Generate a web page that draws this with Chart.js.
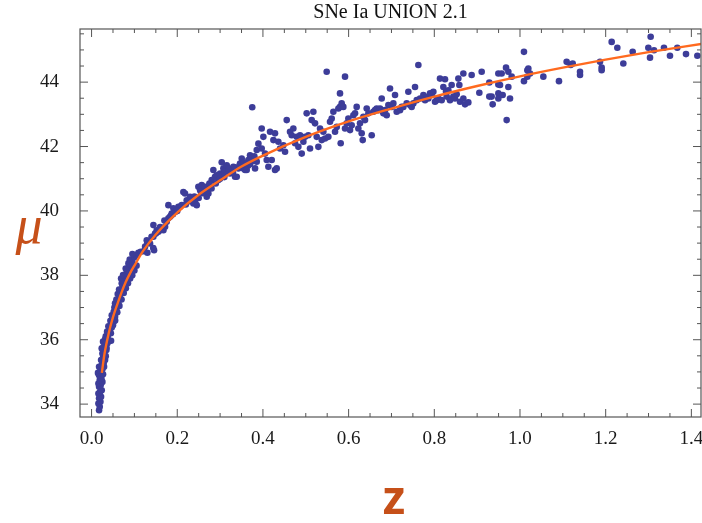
<!DOCTYPE html>
<html>
<head>
<meta charset="utf-8">
<title>SNe Ia UNION 2.1</title>
<script src="https://cdn.jsdelivr.net/npm/chart.js@4.4.1/dist/chart.umd.min.js"></script>
<style>
  html, body { margin: 0; padding: 0; background: #fff; }
  #wrap { position: relative; width: 702px; height: 523px; }
</style>
</head>
<body>
<div id="wrap"><canvas id="hubble"></canvas></div>
<script>
// Supernovas Union 2.1: [z, mu]
const snLowZ = [
  [0.0175,33.81],[0.0191,33.92],[0.0160,34.02],[0.0207,34.07],[0.0175,34.18],[0.0222,34.23],[0.0160,34.33],[0.0198,34.38],
  [0.0237,34.43],[0.0175,34.54],[0.0214,34.59],[0.0160,34.64],[0.0253,34.69],[0.0191,34.75],[0.0229,34.80],[0.0175,34.90],
  [0.0268,34.93],[0.0150,34.97],[0.0206,35.04],[0.0253,35.08],[0.0292,35.16],[0.0175,35.16],[0.0237,35.21],[0.0284,35.28],
  [0.0315,35.37],[0.0222,35.37],[0.0268,35.45],[0.0331,35.49],[0.0253,35.57],[0.0300,35.63],[0.0346,35.68],[0.0237,35.73],
  [0.0284,35.78],[0.0331,35.83],[0.0370,35.89],[0.0268,35.94],[0.0315,36.01],[0.0377,36.04],[0.0455,35.97],[0.0331,36.11],
  [0.0393,36.17],[0.0362,36.25],[0.0424,36.30],[0.0471,36.38],[0.0393,36.42],[0.0455,36.48],[0.0517,36.56],[0.0440,36.59],
  [0.0486,36.66],[0.0548,36.71],[0.0471,36.76],[0.0517,36.87],[0.0580,36.92],[0.0533,37.00],[0.0595,37.08],[0.0548,37.13],
  [0.0626,37.18],[0.0580,37.25],[0.0657,37.33],[0.0611,37.42],[0.0673,37.49],[0.0704,37.75],[0.0642,37.56],[0.0720,37.64],
  [0.0751,37.80],[0.0689,37.90],[0.0782,37.95],[0.0813,38.06],[0.0735,38.01],[0.0844,38.16],[0.0875,38.25],[0.0797,38.21],
  [0.0922,38.32],[0.0860,38.37],[0.0953,38.42],[0.0891,38.49],[0.1000,38.56],[0.1046,38.63],[0.0953,38.66],[0.1093,38.70],
  [0.1147,38.73],[0.1225,38.75],[0.1303,38.70],[0.1459,38.78],
  [0.050,36.45],[0.055,36.60],[0.060,36.85],[0.065,37.05],[0.070,37.25],[0.075,37.45],[0.080,37.60],[0.085,37.75],
  [0.090,37.90],[0.095,38.00],[0.100,38.15],[0.105,38.30],[0.045,36.20],[0.035,35.75],[0.030,35.40],[0.040,35.95]
];

const snMidZ = [
  [0.1249,38.89],[0.1288,39.09],[0.1365,38.99],[0.1443,39.56],[0.1443,39.20],[0.1482,39.30],[0.1521,39.40],[0.1560,39.35],
  [0.1599,39.40],[0.1638,39.45],[0.1677,39.40],[0.1716,39.51],[0.1754,39.66],[0.1793,39.77],[0.1832,39.82],[0.1871,39.92],
  [0.1793,40.18],[0.1910,40.08],[0.1949,39.97],[0.1988,40.02],[0.2027,40.13],[0.2066,40.13],[0.2105,40.18],[0.2143,40.59],
  [0.2182,40.54],[0.2221,40.33],[0.2299,40.44],[0.2338,40.33],[0.2377,40.23],[0.2416,40.28],[0.2455,40.18],[0.2493,40.75],
  [0.2532,40.65],[0.2571,40.80],[0.2610,40.70],[0.2649,40.59],[0.2688,40.44],[0.2727,40.54],[0.2766,40.75],[0.2804,40.96],
  [0.2843,41.27],[0.2882,41.06],[0.2921,41.11],[0.2960,40.96],[0.2999,41.16],[0.3038,41.51],[0.3077,41.32],[0.3116,41.22],
  [0.3155,41.42],[0.3193,41.32],[0.3232,41.16],[0.3271,41.27],[0.3310,41.37],[0.3349,41.06],[0.3388,41.06],[0.3427,41.32],
  [0.3466,41.47],[0.3505,41.63],[0.3544,41.32],[0.3582,41.27],[0.3621,41.27],[0.3660,41.58],[0.3699,41.73],[0.3738,41.63],
  [0.3777,41.58],[0.3816,41.32],[0.3855,41.89],[0.3894,42.09],[0.3855,41.53],[0.3750,43.22],[0.1440,38.85],
  [0.260,40.55],[0.265,40.75],[0.270,40.62],[0.275,40.85],[0.280,40.70],[0.290,40.85],[0.300,41.00],[0.305,41.10],
  [0.310,41.05],[0.320,41.25],[0.330,41.20],[0.335,41.35],[0.345,41.40],[0.355,41.50],[0.360,41.45],[0.365,41.40],
  [0.375,41.55],[0.380,41.70],[0.370,41.45],[0.240,40.45],[0.220,40.20],[0.200,40.00],[0.190,39.90],[0.170,39.70],
  [0.160,39.50],[0.150,39.30],[0.140,39.20],[0.130,39.00],[0.185,39.85],[0.230,40.30],[0.250,40.40],[0.255,40.60]
];

const snHighZ = [
  [0.3971,42.56],[0.4010,42.30],[0.3971,41.94],[0.4049,41.78],[0.4088,41.58],[0.4127,41.37],[0.4205,41.58],[0.4282,41.27],
  [0.4321,41.32],[0.4166,42.46],[0.4282,42.41],[0.4244,42.20],[0.4360,42.15],[0.4399,41.94],[0.4477,42.04],[0.4516,41.84],
  [0.4555,42.82],[0.4632,42.46],[0.4671,42.35],[0.4710,42.56],[0.4749,42.10],[0.4788,42.30],[0.4827,41.99],[0.4866,42.35],
  [0.4905,41.78],[0.4944,42.15],[0.4983,42.30],[0.5021,43.03],[0.5060,42.35],[0.5099,41.94],[0.5138,42.82],[0.5177,43.08],
  [0.5216,42.72],[0.5255,42.30],[0.5294,41.99],[0.5333,42.56],[0.5372,42.20],[0.5410,42.46],[0.5449,42.25],[0.5488,44.32],
  [0.5527,42.30],[0.5566,42.77],[0.5605,42.87],[0.5644,43.08],[0.5683,42.46],[0.5722,42.61],[0.5761,43.18],[0.5799,43.23],
  [0.5815,42.10],[0.5838,43.34],[0.5799,43.65],[0.5877,43.23],[0.5916,44.17],[0.5916,42.56],[0.5955,42.72],[0.5994,42.87],
  [0.6033,42.51],[0.6072,42.66],[0.6111,42.97],[0.6150,43.03],[0.6188,43.23],[0.6227,42.56],[0.6266,42.72],[0.6305,42.41],
  [0.6329,42.20],[0.6344,42.92],[0.6383,42.82],[0.6422,43.18],[0.6461,43.03],[0.6539,42.35],[0.6577,43.08],[0.6616,43.13],
  [0.6655,43.18],[0.6694,43.13],[0.6733,43.18],[0.6772,43.49],[0.6811,43.03],[0.6850,43.13],[0.6889,42.97],[0.6928,43.29],
  [0.6966,43.80],[0.7005,43.23],[0.7044,43.34],[0.7083,43.60],[0.7122,43.08],[0.7200,43.13],[0.7239,43.23],[0.7278,43.23],
  [0.7355,43.34],[0.7394,43.70],[0.7433,43.29],[0.7472,43.23],[0.7511,43.34],[0.7550,43.85],[0.7589,43.44],[0.7628,44.53],
  [0.7667,43.49],[0.7745,43.60],[0.7784,43.44],[0.7822,43.54],[0.7861,43.49],[0.7900,43.65],[0.7939,43.60],[0.7978,43.70],
  [0.8017,43.39],[0.8056,43.44],[0.8095,43.49],
  [0.8133,44.11],[0.8172,43.44],[0.8211,43.85],[0.8250,44.09],[0.8273,43.70],[0.8289,43.55],[0.8328,43.75],[0.8366,43.44],
  [0.8405,43.91],[0.8444,43.55],[0.8483,43.49],[0.8522,43.62],[0.8561,44.11],[0.8584,43.91],[0.8600,43.39],[0.8678,44.27],
  [0.8678,43.49],[0.8717,43.31],[0.8794,43.37],[0.8872,44.22],[0.9051,43.67],[0.9106,44.32],[0.9284,43.99],[0.9284,43.55],
  [0.9339,43.55],[0.9362,43.31],[0.9495,44.27],[0.9495,43.93],[0.9495,43.65],[0.9495,43.49],[0.9534,43.91],[0.9572,44.27],
  [0.9596,43.60],[0.9674,44.45],[0.9689,42.82],[0.9728,44.32],[0.9728,43.85],[0.9767,43.49],[0.9806,44.17],[1.0093,44.94],
  [1.0093,44.03],[1.0171,44.37],[1.0171,44.17],[1.0195,44.42],[1.0234,44.27],[1.0545,44.17],[1.0910,44.03],[1.1089,44.63],
  [1.1183,44.53],[1.1230,44.58],[1.1401,44.32],[1.1401,44.22],[1.1868,44.63],[1.1906,44.45],[1.1906,44.37],[1.2140,45.25],
  [1.2272,45.07],[1.2412,44.58],[1.2630,44.94],[1.2996,45.07],[1.3035,44.76],[1.3050,45.41],[1.3128,44.99],[1.3361,45.07],
  [1.3501,44.82],[1.3672,45.07],[1.3875,44.87],[1.4140,44.82]
];

// Curva de ajuste
const fitZ  = [0.024, 0.03, 0.04, 0.05, 0.06, 0.07, 0.08, 0.09, 0.1, 0.12, 0.15, 0.2, 0.25,
               0.3, 0.35, 0.4, 0.5, 0.6, 0.7, 0.8, 0.9, 1.0, 1.1, 1.2, 1.3, 1.43];
const fitMu = [34.97, 35.55, 36.2, 36.7, 37.1, 37.47, 37.8, 38.07, 38.3, 38.75, 39.27, 39.95, 40.5,
               40.95, 41.38, 41.72, 42.3, 42.78, 43.18, 43.55, 43.88, 44.18, 44.45, 44.7, 44.93, 45.2];

const xTicks = [0.0, 0.2, 0.4, 0.6, 0.8, 1.0, 1.2, 1.4];
const yTicks = [34, 36, 38, 40, 42, 44];

const chartTitle = 'SNe Ia UNION 2.1';
const yLabel = 'μ';
const xLabel = 'z';

const serif = "'Liberation Serif', 'Times New Roman', serif";
const dotColor = '#3d3d99';
const fitColor = '#ff6a1f';
const labelColor = '#c65019';

const toXY = arr => arr.map(p => ({ x: p[0], y: p[1] }));

// Marco con marcas hacia dentro y etiquetas de ejes
const frameAndLabels = {
    id: 'frameAndLabels',
    afterDraw(chart) {
        const { ctx, chartArea: a, scales } = chart;
        const sx = scales.x, sy = scales.y;
        ctx.save();
        ctx.strokeStyle = '#555';
        ctx.lineWidth = 1.2;
        ctx.strokeRect(a.left, a.top, a.right - a.left, a.bottom - a.top);

        ctx.lineWidth = 1;
        ctx.beginPath();
        for (let i = -1; i <= 30; i++) {
            const v = i * 0.05;
            const px = sx.getPixelForValue(v);
            if (px <= a.left || px >= a.right) continue;
            const len = (i % 4 === 0) ? 8 : 4;
            ctx.moveTo(px, a.bottom); ctx.lineTo(px, a.bottom - len);
            ctx.moveTo(px, a.top); ctx.lineTo(px, a.top + len);
        }
        for (let i = 66; i <= 92; i++) {
            const v = i * 0.5;
            const py = sy.getPixelForValue(v);
            if (py <= a.top || py >= a.bottom) continue;
            const len = (i % 4 === 0) ? 8 : 4;
            ctx.moveTo(a.left, py); ctx.lineTo(a.left + len, py);
            ctx.moveTo(a.right, py); ctx.lineTo(a.right - len, py);
        }
        ctx.stroke();

        ctx.fillStyle = labelColor;
        ctx.textAlign = 'center';
        ctx.textBaseline = 'alphabetic';
        ctx.font = "italic 54px " + serif;
        ctx.fillText(yLabel, 29, 243);
        ctx.font = "bold 46px 'Open Sans', 'DejaVu Sans', sans-serif";
        ctx.fillText(xLabel, 394, 514);
        ctx.restore();
    }
};

new Chart(document.getElementById('hubble'), {
    type: 'scatter',
    data: {
        datasets: [
            {
                type: 'line',
                label: 'ajuste',
                data: fitZ.map((z, i) => ({ x: z, y: fitMu[i] })),
                borderColor: fitColor,
                borderWidth: 2.4,
                pointRadius: 0,
                fill: false,
                cubicInterpolationMode: 'monotone',
                order: 0
            },
            {
                label: 'SNe Ia',
                data: toXY(snLowZ.concat(snMidZ, snHighZ)),
                backgroundColor: dotColor,
                borderWidth: 0,
                pointRadius: 3.3,
                pointHoverRadius: 3.3,
                order: 1
            }
        ]
    },
    plugins: [frameAndLabels],
    options: {
        responsive: true,
        maintainAspectRatio: false,
        animation: false,
        devicePixelRatio: 1,
        layout: { autoPadding: false, padding: { left: 0, right: 1, top: 0, bottom: 0 } },
        plugins: {
            legend: { display: false },
            tooltip: { enabled: false },
            title: {
                display: true,
                fullSize: false,
                text: chartTitle,
                color: '#111',
                font: { family: serif, size: 20, weight: 'normal' },
                padding: { top: 1, bottom: 4 }
            }
        },
        scales: {
            x: {
                type: 'linear',
                min: -0.027,
                max: 1.4225,
                grid: { display: false },
                border: { display: false },
                afterBuildTicks: s => { s.ticks = xTicks.map(v => ({ value: v })); },
                afterFit: s => { s.height = 106; s.paddingLeft = 0; s.paddingRight = 0; },
                ticks: {
                    color: '#1a1a1a',
                    font: { family: serif, size: 19 },
                    padding: 3,
                    maxRotation: 0,
                    callback: v => Number(v).toFixed(1)
                }
            },
            y: {
                type: 'linear',
                min: 33.6,
                max: 45.65,
                grid: { display: false },
                border: { display: false },
                afterBuildTicks: s => { s.ticks = yTicks.map(v => ({ value: v })); },
                afterFit: s => { s.width = 80; s.paddingTop = 0; s.paddingBottom = 0; },
                ticks: {
                    color: '#1a1a1a',
                    font: { family: serif, size: 19 },
                    padding: 13,
                    callback: v => String(v)
                }
            }
        }
    }
});
</script>
</body>
</html>
